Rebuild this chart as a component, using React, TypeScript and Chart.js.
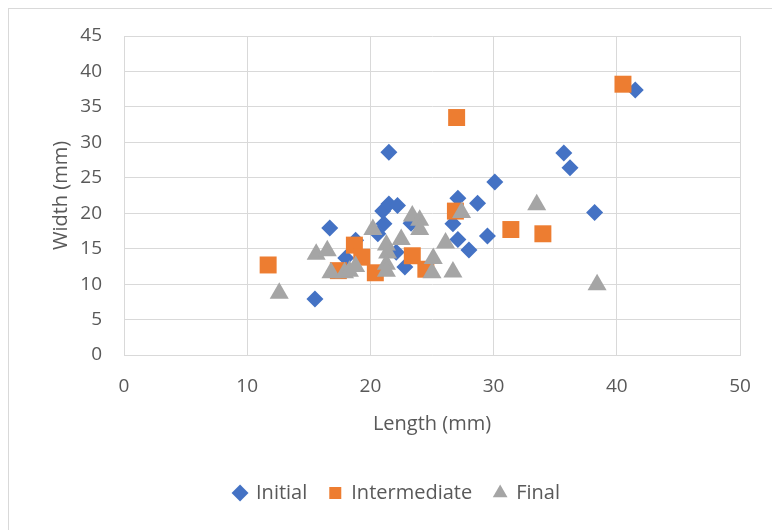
import React, { useEffect, useRef } from "react";
import { Chart, registerables } from "chart.js";

Chart.register(...registerables);

const initialX = [15.5, 16.7, 18.0, 18.8, 20.6, 21.1, 21.0, 21.5, 22.2, 21.5, 22.1, 22.8, 23.3, 26.7, 27.1, 27.1, 28.0, 28.7, 29.5, 30.1, 35.7, 36.2, 38.2, 41.5];
const initialY = [7.9, 17.9, 13.7, 16.2, 17.1, 18.5, 20.3, 21.3, 21.1, 28.6, 14.5, 12.4, 18.6, 18.5, 22.1, 16.3, 14.8, 21.4, 16.8, 24.4, 28.5, 26.4, 20.1, 37.4];

const interX = [11.7, 17.4, 18.7, 19.3, 20.4, 23.4, 24.5, 26.9, 27.0, 31.4, 34.0, 40.5];
const interY = [12.7, 11.9, 15.5, 13.8, 11.6, 14.0, 12.1, 20.3, 33.5, 17.7, 17.1, 38.2];

const finalX = [12.6, 15.6, 16.5, 16.8, 17.9, 18.3, 18.8, 20.2, 21.3, 21.4, 21.3, 21.3, 22.5, 23.4, 24.0, 24.0, 25.1, 25.0, 26.1, 26.7, 27.4, 33.5, 38.4];
const finalY = [8.7, 14.2, 14.7, 11.6, 11.6, 11.8, 12.5, 17.7, 15.5, 14.4, 12.8, 11.8, 16.3, 19.6, 19.0, 17.7, 13.6, 11.6, 15.8, 11.7, 20.1, 21.2, 9.9];

const seriesNames = ["Initial", "Intermediate", "Final"];
const xTitle = "Length (mm)";
const yTitle = "Width (mm)";

const zip = (xs: number[], ys: number[]) => xs.map((x, i) => ({ x, y: ys[i] }));

const legendShift = {
  id: "legendShift",
  afterLayout(chart: any) {
    const lg = chart.legend;
    if (lg) {
      lg.left += 27;
      lg.right += 27;
    }
  },
};

export default function App() {
  const ref = useRef<HTMLCanvasElement | null>(null);
  useEffect(() => {
    if (!ref.current) return;
    const font = "'Open Sans', sans-serif";
    const chart = new Chart(ref.current, {
      type: "scatter",
      data: {
        datasets: [
          {
            label: seriesNames[0],
            data: zip(initialX, initialY),
            pointStyle: "rectRot",
            pointRadius: 8.5,
            backgroundColor: "#4472C4",
            borderColor: "#4472C4",
            borderWidth: 0,
            order: 2,
          },
          {
            label: seriesNames[1],
            data: zip(interX, interY),
            pointStyle: "rect",
            pointRadius: 12,
            backgroundColor: "#ED7D31",
            borderColor: "#ED7D31",
            borderWidth: 0,
            order: 1,
          },
          {
            label: seriesNames[2],
            data: zip(finalX, finalY),
            pointStyle: "triangle",
            pointRadius: 11,
            backgroundColor: "#A5A5A5",
            borderColor: "#A5A5A5",
            borderWidth: 0,
            order: 0,
          },
        ],
      },
      options: {
        animation: false,
        responsive: false,
        maintainAspectRatio: false,
        layout: { padding: { top: 36, right: 32, left: 0, bottom: 17 } },
        plugins: {
          tooltip: { enabled: false },
          legend: {
            position: "bottom",
            labels: {
              usePointStyle: true,
              boxWidth: 12,
              boxHeight: 12,
              padding: 22,
              color: "#595959",
              font: { family: font, size: 20 },
              sort: (a: any, b: any) => a.datasetIndex - b.datasetIndex,
            },
          },
        },
        scales: {
          x: {
            type: "linear",
            min: 0,
            max: 50,
            afterFit: (s: any) => {
              s.height = 106;
            },
            ticks: { stepSize: 10, color: "#595959", padding: 20, font: { family: font, size: 19 } },
            grid: { color: "#d9d9d9", drawTicks: false, lineWidth: 1 },
            border: { color: "#d9d9d9" },
            title: {
              display: true,
              text: xTitle,
              color: "#595959",
              font: { family: font, size: 20 },
              padding: { top: 0, bottom: 25 },
            },
          },
          y: {
            type: "linear",
            min: 0,
            max: 45,
            afterFit: (s: any) => {
              s.width = 124;
            },
            ticks: { stepSize: 5, color: "#595959", padding: 22, font: { family: font, size: 19 } },
            grid: { color: "#d9d9d9", drawTicks: false, lineWidth: 1 },
            border: { color: "#d9d9d9" },
            title: {
              display: true,
              text: yTitle,
              color: "#595959",
              font: { family: font, size: 20 },
              padding: { top: 49, bottom: 0 },
            },
          },
        },
      },
      plugins: [legendShift],
    });
    return () => chart.destroy();
  }, []);
  return (
    <>
      <div
        style={{
          position: "fixed",
          left: 8,
          top: 8,
          width: 800,
          height: 600,
          border: "1px solid #d9d9d9",
          boxSizing: "border-box",
          background: "#fff",
        }}
      />
      <div style={{ position: "fixed", left: 0, top: 0, width: 772, height: 530 }}>
        <canvas ref={ref} width={772} height={530} style={{ width: 772, height: 530, display: "block" }} />
      </div>
    </>
  );
}
